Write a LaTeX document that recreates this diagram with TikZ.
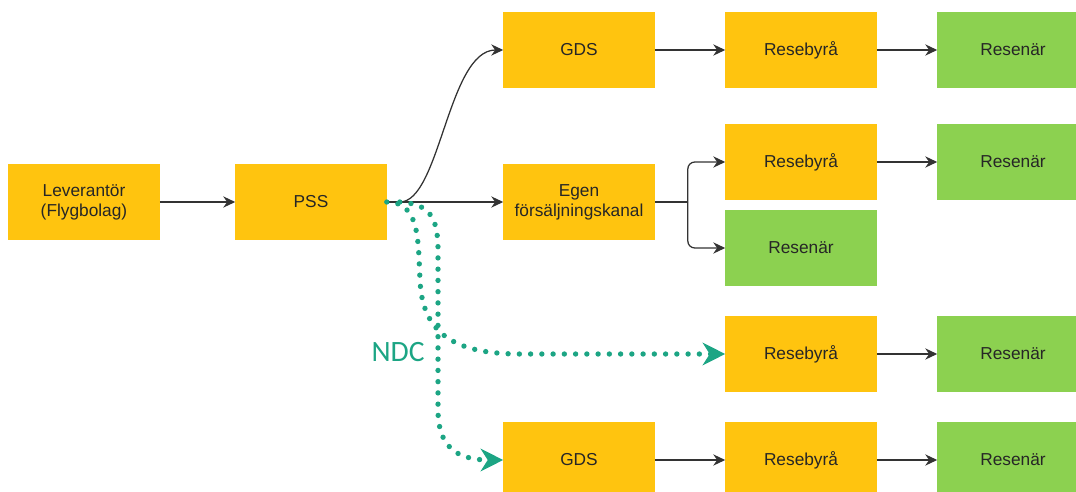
\documentclass[tikz,border=0pt]{standalone}
\usepackage{fontspec}
\setmainfont{Liberation Sans}
\newfontfamily\ndcfont{Carlito}
\usepackage{xcolor}
\usepackage{tikz}
\usetikzlibrary{arrows.meta, positioning, calc}

\definecolor{gul}{HTML}{FFC40F}
\definecolor{gron}{HTML}{8CD150}
\definecolor{ndcfarg}{HTML}{1CA584}
\definecolor{pilfarg}{HTML}{333333}

\tikzset{
    gulbox/.style={fill=gul, text=black!85, minimum width=3.775cm, minimum height=1.9cm,
        inner sep=0pt, align=center, font=\fontsize{12.3}{14.2}\selectfont},
    gronbox/.style={gulbox, fill=gron},
    pil/.style={draw=pilfarg, line width=0.9pt, -{Stealth[length=8.5pt, width=8pt]}},
    ndc/.style={draw=ndcfarg, line width=3.8pt, line cap=round, dash pattern=on 0pt off 8pt,
        -{Stealth[length=16pt, width=16pt, inset=5pt]}}
}

\begin{document}
\begin{tikzpicture}[x=0.025cm, y=-0.025cm]
    \useasboundingbox (0,0) rectangle (1076,492);

    % rutor
    \node[gulbox] (lev) at (84,202) {Leverantör\\(Flygbolag)};
    \node[gulbox] (pss) at (311,202) {PSS};
    \node[gulbox] (gds1) at (579,50) {GDS};
    \node[gulbox] (rb1) at (801,50) {Resebyrå};
    \node[gronbox] (rn1) at (1013,50) {Resenär};
    \node[gulbox] (egen) at (579,202) {Egen\\försäljningskanal};
    \node[gulbox] (rb2) at (801,162) {Resebyrå};
    \node[gronbox] (rn2) at (1013,162) {Resenär};
    \node[gronbox] (rn3) at (801,248) {Resenär};
    \node[gulbox] (rb3) at (801,354) {Resebyrå};
    \node[gronbox] (rn4) at (1013,354) {Resenär};
    \node[gulbox] (gds2) at (579,460) {GDS};
    \node[gulbox] (rb4) at (801,460) {Resebyrå};
    \node[gronbox] (rn5) at (1013,460) {Resenär};

    % vanliga pilar
    \draw[pil] (lev) -- (pss);
    \draw[pil] (pss) -- (egen);
    \draw[pil] (pss.east) -- ++(13,0) .. controls (440,202) and (448,50) .. (gds1.west);
    \draw[pil] (gds1) -- (rb1);
    \draw[pil] (rb1) -- (rn1);
    \draw[pil] (rb2) -- (rn2);
    \draw[pil] (rb3) -- (rn4);
    \draw[pil] (gds2) -- (rb4);
    \draw[pil] (rb4) -- (rn5);

    % förgrening från egen kanal
    \draw[draw=pilfarg, line width=0.9pt] (egen.east) -- ++(33,0) coordinate (gren);
    \draw[pil, rounded corners=5pt] (gren) |- (rb2.west);
    \draw[pil, rounded corners=5pt] (gren) |- (rn3.west);

    % NDC
    \draw[ndc] (pss.east) .. controls (420,202) and (418,240) .. (420,280)
        .. controls (422,330) and (450,354) .. (520,354) -- (rb3.west);
    \draw[ndc] (pss.east) ++(13,0) .. controls (428,204) and (438,215) .. (438,250)
        -- (438,410) .. controls (438,445) and (455,460) .. (gds2.west);
    \node[text=ndcfarg, font=\ndcfont\fontsize{21}{24}\selectfont] (ndclabel) at (398,352) {NDC};
\end{tikzpicture}
\end{document}
